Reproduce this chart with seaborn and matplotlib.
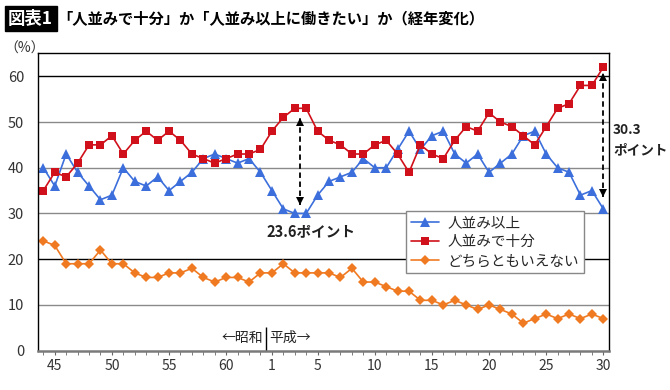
import numpy as np
import pandas as pd
import matplotlib
matplotlib.use("Agg")
import matplotlib.pyplot as plt
import seaborn as sns

# 年（昭和44〜63、平成1〜30）
showa = list(range(44, 64))
heisei = list(range(1, 31))
year_labels = [str(y) for y in showa] + [str(y) for y in heisei]

# 各回答の割合（%）
above = [40, 36, 43, 39, 36, 33, 34, 40, 37, 36, 38, 35, 37, 39, 42, 43, 42, 41, 42, 39,
         35, 31, 30, 30, 34, 37, 38, 39, 42, 40, 40, 44, 48, 44, 47, 48, 43, 41, 43, 39,
         41, 43, 47, 48, 43, 40, 39, 34, 35, 31]
enough = [35, 39, 38, 41, 45, 45, 47, 43, 46, 48, 46, 48, 46, 43, 42, 41, 42, 43, 43, 44,
          48, 51, 53, 53, 48, 46, 45, 43, 43, 45, 46, 43, 39, 45, 43, 42, 46, 49, 48, 52,
          50, 49, 47, 45, 49, 53, 54, 58, 58, 62]
neither = [24, 23, 19, 19, 19, 22, 19, 19, 17, 16, 16, 17, 17, 18, 16, 15, 16, 16, 15, 17,
           17, 19, 17, 17, 17, 17, 16, 18, 15, 15, 14, 13, 13, 11, 11, 10, 11, 10, 9, 10,
           9, 8, 6, 7, 8, 7, 8, 7, 8, 7]

tick_years = ["45", "50", "55", "60", "1", "5", "10", "15", "20", "25", "30"]
tick_pos = [1, 6, 11, 16, 20, 24, 29, 34, 39, 44, 49]

df = pd.DataFrame({"i": np.arange(len(year_labels)), "above": above,
                   "enough": enough, "neither": neither})

sns.set_style("white")
plt.rcParams["font.family"] = ["Noto Sans CJK JP", "DejaVu Sans"]

fig = plt.figure(figsize=(6.7, 3.9), dpi=100)
ax = fig.add_axes([0.057, 0.101, 0.852, 0.762])

# 横の目盛線（20と60は黒）
for v in [10, 30, 40, 50]:
    ax.axhline(v, color="#8a8a8a", lw=1, zorder=0)
for v in [20, 60]:
    ax.axhline(v, color="black", lw=1, zorder=0)

blue = "#3c6fdc"
red = "#d0101a"
orange = "#f07a22"
sns.lineplot(data=df, x="i", y="above", ax=ax, color=blue, marker="^", markersize=7,
             markeredgewidth=0, lw=1.2, label="人並み以上")
sns.lineplot(data=df, x="i", y="enough", ax=ax, color=red, marker="s", markersize=6,
             markeredgewidth=0, lw=1.2, label="人並みで十分")
sns.lineplot(data=df, x="i", y="neither", ax=ax, color=orange, marker="D", markersize=5,
             markeredgewidth=0, lw=1.2, label="どちらともいえない")

ax.set_xlim(-0.45, 49.5)
ax.set_ylim(0, 65)
ax.set_xticks(tick_pos)
ax.set_xticklabels(tick_years)
ax.set_xticks(np.arange(len(year_labels)), minor=True)
ax.set_yticks(range(0, 70, 10))
ax.tick_params(axis="x", which="both", direction="out", length=3, color="#666666",
               labelsize=10, labelcolor="#333333", pad=3, bottom=True)
ax.tick_params(axis="y", length=0, labelsize=10.5, labelcolor="#333333", pad=10)
ax.set_xlabel("")
ax.set_ylabel("")
for s in ["left", "top", "right"]:
    ax.spines[s].set_color("black")
    ax.spines[s].set_linewidth(1)
ax.spines["bottom"].set_color("#7a7a7a")
ax.spines["bottom"].set_linewidth(1.8)

# 昭和・平成の区切り
ax.vlines(19.5, 0, 5.2, color="black", lw=1)
ax.text(19.2, 2.8, "←昭和", ha="right", va="center", fontsize=10, color="#222222")
ax.text(19.8, 2.8, "平成→", ha="left", va="center", fontsize=10, color="#222222")

# 差の矢印
def gap_arrow(x, lo, hi):
    ax.vlines(x, lo, hi, colors="black", linestyles=(0, (3, 2)), lw=1.3)
    ax.plot([x], [hi - 0.9], marker="^", color="black", markersize=6, markeredgewidth=0)
    ax.plot([x], [lo + 0.9], marker="v", color="black", markersize=6, markeredgewidth=0)

gap_arrow(22.5, above[22] + 1.8, enough[22] - 2)
gap_arrow(49, above[49] + 2.5, enough[49] - 1.2)
ax.text(23.4, 26.2, "23.6ポイント", ha="center", va="center", fontsize=10.5,
        fontweight="bold", color="#222222")
ax.text(49.85, 46, "30.3\nポイント", ha="left", va="center", fontsize=9.8,
        fontweight="bold", color="#222222", linespacing=1.55, clip_on=False)

leg = ax.legend(loc="upper left", bbox_to_anchor=(0.595, 0.478),
                bbox_transform=fig.transFigure, fontsize=10.5, frameon=True,
                fancybox=False, edgecolor="#888888", framealpha=1,
                handlelength=1.9, handletextpad=0.6, borderpad=0.35, labelspacing=0.35)
leg.get_frame().set_linewidth(1)

fig.text(0.006, 0.875, "（%）", fontsize=10, color="#333333", va="center")

# タイトル
fig.text(0.012, 0.952, "図表1", fontsize=12.5, fontweight="bold", color="white", va="center",
         bbox=dict(boxstyle="square,pad=0.2", facecolor="black", edgecolor="black"))
fig.text(0.085, 0.952, "「人並みで十分」か「人並み以上に働きたい」か（経年変化）",
         fontsize=11, fontweight="bold", color="black", va="center")

fig.savefig("out.png", dpi=100)
